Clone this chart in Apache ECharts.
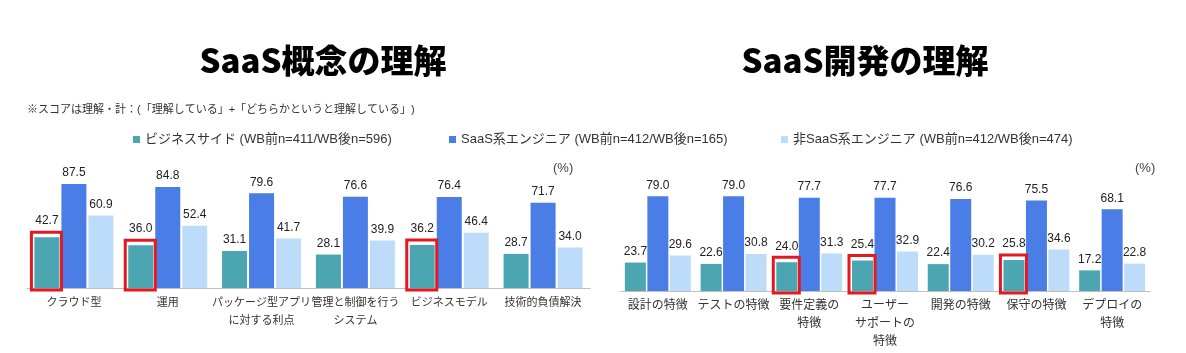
<!DOCTYPE html>
<html>
<head>
<meta charset="utf-8">
<script src="https://cdn.jsdelivr.net/npm/echarts@6/dist/echarts.min.js"></script>
<style>
  html, body { margin: 0; padding: 0; background: #fff; }
  #main { width: 1186px; height: 353px; }
</style>
</head>
<body>
<div id="main"></div>
<script>
// SaaS概念の理解
var conceptCats = ['クラウド型', '運用', 'パッケージ型アプリ\nに対する利点', '管理と制御を行う\nシステム', 'ビジネスモデル', '技術的負債解決'];
var conceptBiz = [42.7, 36.0, 31.1, 28.1, 36.2, 28.7];
var conceptSaas = [87.5, 84.8, 79.6, 76.6, 76.4, 71.7];
var conceptNon = [60.9, 52.4, 41.7, 39.9, 46.4, 34.0];
var conceptMarked = [0, 1, 4];

// SaaS開発の理解
var devCats = ['設計の特徴', 'テストの特徴', '要件定義の\n特徴', 'ユーザー\nサポートの\n特徴', '開発の特徴', '保守の特徴', 'デプロイの\n特徴'];
var devBiz = [23.7, 22.6, 24.0, 25.4, 22.4, 25.8, 17.2];
var devSaas = [79.0, 79.0, 77.7, 77.7, 76.6, 75.5, 68.1];
var devNon = [29.6, 30.8, 31.3, 32.9, 30.2, 34.6, 22.8];
var devMarked = [2, 3, 5];

var seriesNames = ['ビジネスサイド (WB前n=411/WB後n=596)', 'SaaS系エンジニア (WB前n=412/WB後n=165)', '非SaaS系エンジニア (WB前n=412/WB後n=474)'];
var colors = ['#4ba6b2', '#4a7de6', '#bddcfa'];

var jp = "'Liberation Sans', 'Noto Sans CJK JP', sans-serif";
var myChart = echarts.init(document.getElementById('main'));

function withMarks(values, marked) {
  return values.map(function (v, i) {
    if (marked.indexOf(i) >= 0) return { value: v, label: { distance: 10 } };
    return v;
  });
}

function barSeries(idx, name, data, barW, gapPct) {
  return {
    name: name,
    type: 'bar',
    xAxisIndex: idx,
    yAxisIndex: idx,
    data: data,
    barWidth: barW,
    barGap: gapPct,
    itemStyle: { color: colors[seriesNames.indexOf(name)] },
    label: {
      show: true,
      position: 'top',
      distance: 5,
      fontFamily: 'Liberation Sans',
      fontSize: 12,
      color: '#222',
      formatter: function (p) { return Number(p.value).toFixed(1); }
    }
  };
}

// red frames round the highlighted teal bars
function boxSeries(idx, values, marked, barW, gap) {
  return {
    type: 'custom',
    xAxisIndex: idx,
    yAxisIndex: idx,
    z: 5,
    silent: true,
    data: marked.map(function (i) { return [i, values[i]]; }),
    renderItem: function (params, api) {
      var top = api.coord([api.value(0), api.value(1)]);
      var base = api.coord([api.value(0), 0]);
      var cx = top[0] - barW - gap;
      return {
        type: 'rect',
        shape: { x: cx - barW / 2 - 3, y: top[1] - 5, width: barW + 5, height: base[1] - top[1] + 7 },
        style: { fill: 'none', stroke: '#e3191f', lineWidth: 3 }
      };
    }
  };
}

function xAxisFor(idx, cats, fs) {
  return {
    type: 'category',
    gridIndex: idx,
    data: cats,
    axisLine: { lineStyle: { color: '#bfbfbf', width: 1 } },
    axisTick: { show: false },
    axisLabel: { interval: 0, margin: 6, fontSize: fs, lineHeight: 18, color: '#333', fontFamily: jp }
  };
}

function yAxisFor(idx) {
  return { type: 'value', gridIndex: idx, min: 0, max: 100, show: false, splitLine: { show: false } };
}

var option = {
  animation: false,
  title: [
    { text: 'SaaS概念の理解', left: 318, top: 39, textAlign: 'center',
      textStyle: { fontFamily: 'Noto Sans CJK JP', fontWeight: 900, fontSize: 33, color: '#000' } },
    { text: 'SaaS開発の理解', left: 860, top: 39, textAlign: 'center',
      textStyle: { fontFamily: 'Noto Sans CJK JP', fontWeight: 900, fontSize: 33, color: '#000' } }
  ],
  legend: [0, 1, 2].map(function (i) {
    return {
      data: [seriesNames[i]],
      left: [128, 444, 776][i],
      top: 128,
      icon: 'rect',
      itemWidth: 7,
      itemHeight: 7,
      textStyle: { fontSize: 13, color: '#333', fontFamily: jp }
    };
  }),
  graphic: [
    { type: 'text', left: 27, top: 104,
      style: { text: '※スコアは理解・計：(「理解している」+「どちらかというと理解している」)', font: '11px ' + jp, fill: '#333' } },
    { type: 'text', left: 553, top: 162, style: { text: '(%)', font: '13px Liberation Sans', fill: '#444' } },
    { type: 'text', left: 1135, top: 162, style: { text: '(%)', font: '13px Liberation Sans', fill: '#444' } }
  ],
  grid: [
    { left: 27, width: 563, top: 169, height: 119 },
    { left: 620, width: 530, top: 171, height: 120 }
  ],
  xAxis: [xAxisFor(0, conceptCats, 11), xAxisFor(1, devCats, 12)],
  yAxis: [yAxisFor(0), yAxisFor(1)],
  series: [
    barSeries(0, seriesNames[0], withMarks(conceptBiz, conceptMarked), 25, '8%'),
    barSeries(0, seriesNames[1], conceptSaas, 25, '8%'),
    barSeries(0, seriesNames[2], conceptNon, 25, '8%'),
    boxSeries(0, conceptBiz, conceptMarked, 25, 2),
    barSeries(1, seriesNames[0], withMarks(devBiz, devMarked), 21, '7%'),
    barSeries(1, seriesNames[1], devSaas, 21, '7%'),
    barSeries(1, seriesNames[2], devNon, 21, '7%'),
    boxSeries(1, devBiz, devMarked, 21, 1.5)
  ]
};

myChart.setOption(option);
</script>
</body>
</html>
